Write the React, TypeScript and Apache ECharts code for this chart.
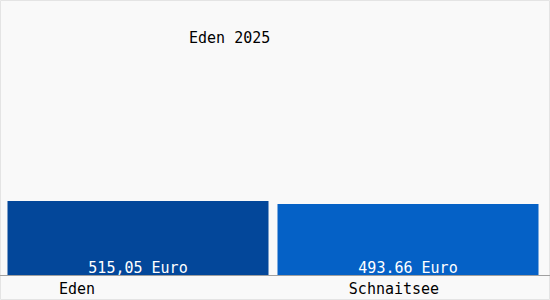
import React, { useEffect, useRef } from "react";
import * as echarts from "echarts";

const categories = ["Eden", "Schnaitsee"];
const values = [515.05, 493.66];
const decimalSeparators = [",", "."];
const barColors = ["#03479a", "#0561c6"];
const titleText = "Eden 2025";
const yMax = 1800;
// horizontal label shift per category (rich padding)
const labelShift = [122, 28];

const FONT = "DejaVu Sans Mono";

export default function App() {
  const ref = useRef<HTMLDivElement>(null);
  useEffect(() => {
    if (!ref.current) return;
    const chart = echarts.init(ref.current, undefined, { renderer: "svg" });
    const rich: Record<string, any> = {};
    categories.forEach((_, i) => {
      rich["c" + i] = {
        fontFamily: FONT,
        fontSize: 15,
        color: "#000",
        padding: [0, labelShift[i], 0, 0],
      };
    });
    chart.setOption({
      animation: false,
      backgroundColor: "#f9f9f9",
      title: {
        text: titleText,
        left: 189,
        top: 30,
        padding: 0,
        textStyle: {
          fontFamily: FONT,
          fontSize: 15,
          fontWeight: "normal",
          color: "#000",
        },
      },
      grid: { left: 3, right: 7, top: 16.3, bottom: 25, containLabel: false },
      xAxis: {
        type: "category",
        data: categories,
        axisLine: { show: false },
        axisTick: { show: false },
        axisLabel: {
          margin: 6,
          formatter: (v: string) => {
            const i = categories.indexOf(v);
            return `{c${i}|${v}}`;
          },
          rich,
        },
      },
      yAxis: {
        type: "value",
        min: 0,
        max: yMax,
        show: false,
        splitLine: { show: false },
      },
      graphic: [
        {
          type: "rect",
          shape: { x: 0.5, y: 0.5, width: 549, height: 299 },
          style: { fill: "none", stroke: "#e4e4e4", lineWidth: 1 },
          silent: true,
          z: 0,
        },
        {
          type: "line",
          shape: { x1: 0, y1: 275.5, x2: 550, y2: 275.5 },
          style: { stroke: "#a0a0a0", lineWidth: 1 },
          silent: true,
          z: 10,
        },
      ],
      series: [
        {
          type: "bar",
          barWidth: 261,
          data: values.map((v, i) => ({
            value: v,
            itemStyle: { color: barColors[i] },
          })),
          label: {
            show: true,
            position: "insideBottom",
            distance: 0,
            fontFamily: FONT,
            fontSize: 15,
            color: "#fff",
            formatter: (p: any) =>
              p.value.toFixed(2).replace(".", decimalSeparators[p.dataIndex]) +
              " Euro",
          },
        },
      ],
    });
    return () => chart.dispose();
  }, []);
  return (
    <div
      ref={ref}
      style={{ position: "fixed", left: 0, top: 0, width: 550, height: 300 }}
    />
  );
}
